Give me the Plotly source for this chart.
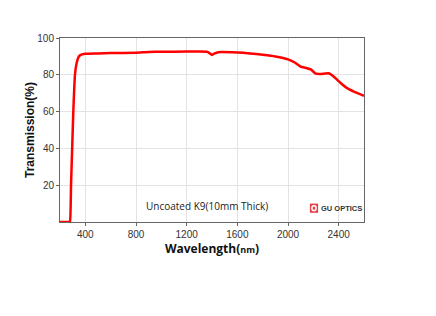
import plotly.graph_objects as go

wavelength = [200, 270, 279, 287, 296, 305, 312, 318, 330, 345, 360, 400, 500, 600, 800, 900,
              1000, 1200, 1300, 1360, 1380, 1400, 1420, 1450, 1600, 1700, 1800, 1900, 2000,
              2050, 2100, 2150, 2180, 2220, 2260, 2320, 2360, 2420, 2470, 2520, 2600]
transmission = [0, 0, 0.5, 20, 40, 60, 72, 80, 86, 89.5, 90.7, 91.4, 91.6, 91.8, 92.0, 92.4,
                92.5, 92.6, 92.6, 92.5, 91.8, 90.8, 91.6, 92.3, 92.1, 91.6, 90.9, 90.0, 88.4,
                86.8, 84.4, 83.6, 82.9, 80.6, 80.5, 80.8, 79.1, 75.3, 72.6, 70.9, 68.6]
x_ticks = [400, 800, 1200, 1600, 2000, 2400]
y_ticks = [20, 40, 60, 80, 100]

fig = go.Figure()
fig.add_trace(go.Scatter(x=wavelength, y=transmission, mode="lines",
                         line=dict(color="#ff0000", width=2.5, shape="spline", smoothing=0.4),
                         showlegend=False, hoverinfo="skip"))

axis_common = dict(showline=True, linecolor="#666666", linewidth=1, mirror=True,
                   gridcolor="#e3e3e3", gridwidth=1, zeroline=False,
                   ticks="outside", ticklen=3, tickcolor="#666666",
                   tickfont=dict(family="Liberation Sans, Arial", size=10, color="#333333"))

fig.update_xaxes(range=[200, 2600], tickvals=x_ticks, **axis_common,
                 title=dict(text="<b>Wavelength(<span style='font-size:9px'>nm</span>)</b>",
                            font=dict(family="Open Sans", size=12, color="#111111"), standoff=2))
fig.update_yaxes(range=[0, 100], tickvals=y_ticks, **axis_common,
                 title=dict(text="<b>Transmission(%)</b>",
                            font=dict(family="Liberation Sans, Arial", size=12, color="#111111"), standoff=0))

fig.add_annotation(x=0.484, y=0.04, xref="paper", yref="paper", showarrow=False,
                   text="Uncoated K9(10mm Thick)",
                   font=dict(family="Open Sans", size=10, color="#222222"))
fig.add_annotation(x=0.852, y=0.04, xref="paper", yref="paper", showarrow=False, xanchor="left",
                   text="<b>GU OPTICS</b>",
                   font=dict(family="Liberation Sans, Arial", size=7.5, color="#333333"))
fig.add_shape(type="rect", xref="paper", yref="paper", x0=0.822, x1=0.849, y0=0.05, y1=0.1,
              fillcolor="#e8404a", line=dict(width=0))
fig.add_shape(type="circle", xref="paper", yref="paper", x0=0.8285, x1=0.8425, y0=0.062, y1=0.088,
              fillcolor="rgba(0,0,0,0)", line=dict(color="white", width=1.5))

fig.update_layout(width=436, height=316, margin=dict(l=60, r=72, t=38, b=94),
                  paper_bgcolor="white", plot_bgcolor="white")
fig.write_html("out.html")
